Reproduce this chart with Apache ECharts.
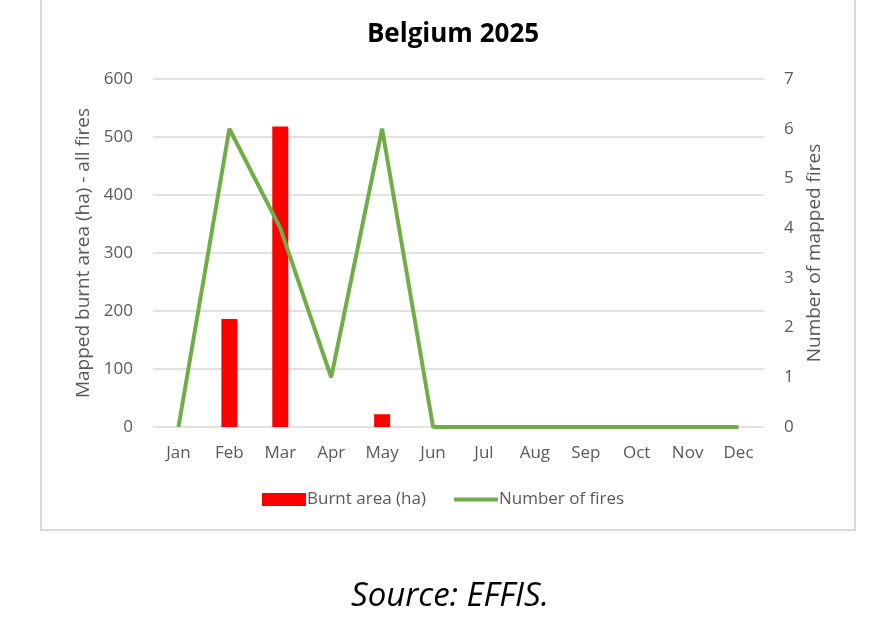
<!DOCTYPE html>
<html>
<head>
<meta charset="utf-8">
<script src="https://cdn.jsdelivr.net/npm/echarts@6/dist/echarts.min.js"></script>
<style>
  html, body { margin: 0; padding: 0; background: #fff; }
  #chart { width: 873px; height: 622px; }
</style>
</head>
<body>
<div id="chart"></div>
<script>
// data
const months = ['Jan', 'Feb', 'Mar', 'Apr', 'May', 'Jun', 'Jul', 'Aug', 'Sep', 'Oct', 'Nov', 'Dec']
const burntArea = [0, 186, 518, 0, 22, 0, 0, 0, 0, 0, 0, 0]
const numFires = [0, 6, 4, 1, 6, 0, 0, 0, 0, 0, 0, 0]

const font = 'Open Sans'
const grey = '#595959'

const chart = echarts.init(document.getElementById('chart'))
chart.setOption({
  animation: false,
  title: {
    text: 'Belgium 2025',
    left: 448,
    top: 17,
    textAlign: 'center',
    textStyle: { fontFamily: font, fontSize: 26, fontWeight: 'bold', color: '#000' }
  },
  legend: {
    left: 257,
    top: 486,
    itemGap: 28,
    itemWidth: 44,
    itemHeight: 13,
    textStyle: { fontFamily: font, fontSize: 17, color: grey, padding: [0, 0, 0, -4] },
    data: [
      { name: 'Burnt area (ha)', icon: 'rect' },
      { name: 'Number of fires', icon: 'path://M0,4 L44,4 L44,8 L0,8 Z' }
    ]
  },
  grid: { left: 153, right: 109, top: 79, bottom: 195 },
  xAxis: {
    type: 'category',
    data: months,
    axisLine: { show: false },
    axisTick: { show: false },
    axisLabel: { fontFamily: font, fontSize: 17, color: grey, margin: 18 }
  },
  yAxis: [
    {
      type: 'value',
      min: 0,
      max: 600,
      interval: 100,
      name: 'Mapped burnt area (ha) - all fires',
      nameLocation: 'middle',
      nameGap: 58,
      nameTextStyle: { fontFamily: font, fontSize: 19, color: grey },
      axisLabel: { fontFamily: font, fontSize: 17, color: grey, margin: 20 },
      splitLine: { lineStyle: { color: '#d9d9d9', width: 1.5 } }
    },
    {
      type: 'value',
      min: 0,
      max: 7,
      interval: 1,
      name: 'Number of mapped fires',
      nameLocation: 'middle',
      nameGap: 41,
      nameTextStyle: { fontFamily: font, fontSize: 19, color: grey },
      axisLabel: { fontFamily: font, fontSize: 17, color: grey, margin: 20 },
      splitLine: { show: false }
    }
  ],
  series: [
    {
      name: 'Burnt area (ha)',
      type: 'bar',
      data: burntArea,
      barWidth: 16,
      itemStyle: { color: '#ff0000' }
    },
    {
      name: 'Number of fires',
      type: 'line',
      yAxisIndex: 1,
      data: numFires,
      symbol: 'none',
      lineStyle: { color: '#70ad47', width: 4 },
      itemStyle: { color: '#70ad47' }
    }
  ],
  graphic: [
    {
      type: 'rect',
      shape: { x: 41, y: -10, width: 814, height: 540 },
      style: { fill: 'none', stroke: '#d9d9d9', lineWidth: 2 },
      silent: true
    },
    {
      type: 'text',
      x: 450,
      y: 580,
      style: {
        text: 'Source: EFFIS.',
        align: 'center',
        fontFamily: font,
        fontStyle: 'italic',
        fontSize: 33,
        fill: '#000'
      }
    }
  ]
})
</script>
</body>
</html>
